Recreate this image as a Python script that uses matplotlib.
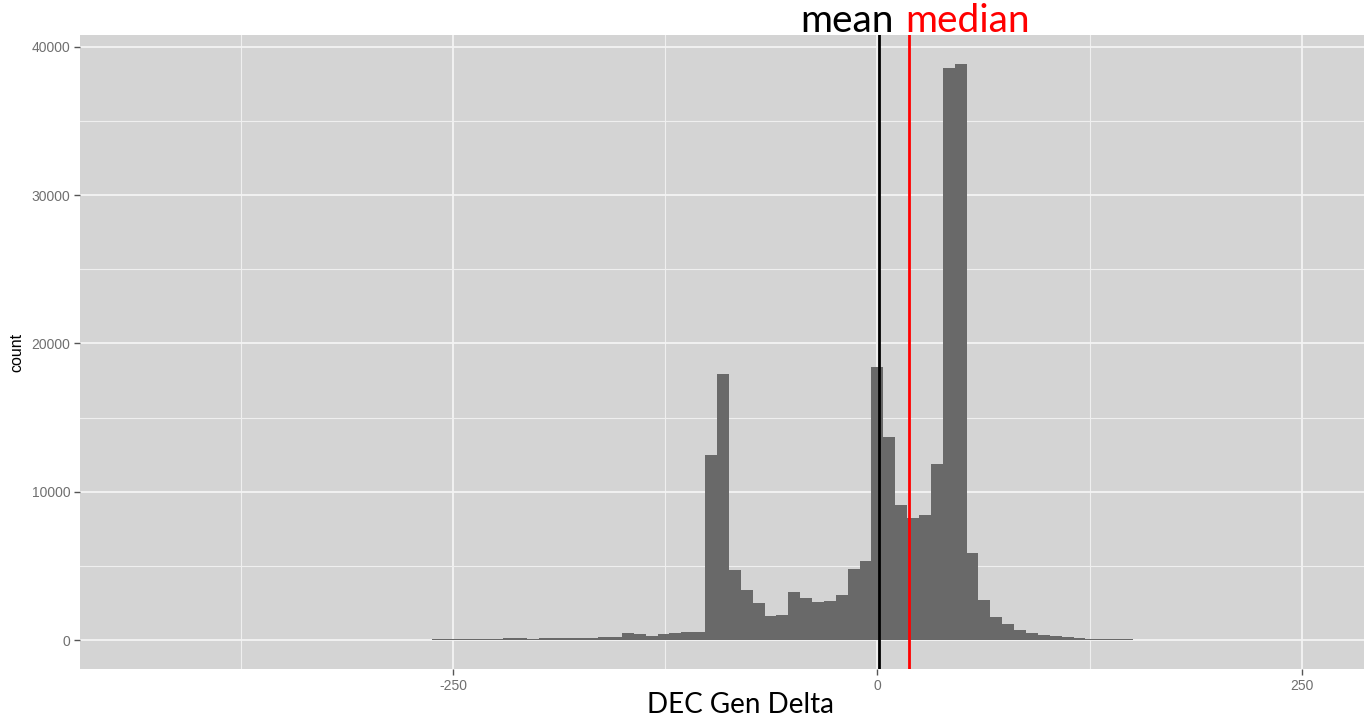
import matplotlib
matplotlib.use("Agg")
import matplotlib.pyplot as plt
from matplotlib.ticker import FixedLocator

# histogram of DEC Gen Delta, binwidth 7
delta_bins = [-259, -252, -245, -238, -231, -224, -217, -210, -203, -196,
              -189, -182, -175, -168, -161, -154, -147, -140, -133, -126,
              -119, -112, -105, -98, -91, -84, -77, -70, -63, -56,
              -49, -42, -35, -28, -21, -14, -7, 0, 7, 14,
              21, 28, 35, 42, 49, 56, 63, 70, 77, 84,
              91, 98, 105, 112, 119, 126, 133, 140, 147]
counts = [50, 60, 60, 60, 60, 60, 150, 150, 60, 130,
          130, 130, 130, 140, 220, 230, 470, 390, 290, 390,
          470, 540, 550, 12480, 17950, 4730, 3360, 2480, 1620, 1690,
          3270, 2820, 2550, 2610, 3040, 4820, 5320, 18420, 13720, 9140,
          8260, 8440, 11870, 38550, 38850, 5850, 2740, 1570, 1100, 700,
          490, 380, 260, 240, 170, 110, 100, 90, 80]
bin_width = 7

mean_delta = 1.0
median_delta = 18.5

x_ticks = [-250, 0, 250]
x_minor = [-375, -125, 125]
y_ticks = [0, 10000, 20000, 30000, 40000]
y_minor = [5000, 15000, 25000, 35000]

fig = plt.figure(figsize=(13.64, 7.18), dpi=100)
ax = fig.add_axes([80 / 1364, 49 / 718, 1284 / 1364, 634 / 718])
ax.set_facecolor("#d4d4d4")

ax.bar(delta_bins, counts, width=bin_width, color="#696969", linewidth=0, zorder=2)

ax.axvline(mean_delta, color="black", lw=2, zorder=3)
ax.axvline(median_delta, color="red", lw=2, zorder=3)

ymax = max(counts)
ax.set_xlim(-469.7, 286.6)
ax.set_ylim(-0.05 * ymax, 1.05 * ymax)

ax.xaxis.set_major_locator(FixedLocator(x_ticks))
ax.xaxis.set_minor_locator(FixedLocator(x_minor))
ax.yaxis.set_major_locator(FixedLocator(y_ticks))
ax.yaxis.set_minor_locator(FixedLocator(y_minor))
ax.set_xticklabels([str(t) for t in x_ticks])
ax.set_yticklabels([str(t) for t in y_ticks])

ax.grid(which="major", color="#f4f4f4", lw=1.3, zorder=1)
ax.grid(which="minor", color="#efefef", lw=0.8, zorder=1)
ax.set_axisbelow(True)

for s in ax.spines.values():
    s.set_visible(False)

ax.tick_params(which="major", length=4, width=1, color="#555555",
               labelcolor="#6f6f6f", labelsize=10, pad=3)
ax.tick_params(which="minor", length=0)
for lab in ax.get_xticklabels() + ax.get_yticklabels():
    lab.set_family("Liberation Sans")

ax.set_ylabel("count", fontsize=11.5, family="Liberation Sans", labelpad=5)

fig.text(740 / 1364, 5 / 718, "DEC Gen Delta", fontsize=20, family="Lato",
         ha="center", va="baseline")
fig.text(800 / 1364, (718 - 31.7) / 718, "mean", fontsize=28, family="Lato",
         color="black", ha="left", va="baseline")
fig.text(905 / 1364, (718 - 31.7) / 718, "median", fontsize=28, family="Lato",
         color="red", ha="left", va="baseline")

fig.savefig("out.png", dpi=100)
